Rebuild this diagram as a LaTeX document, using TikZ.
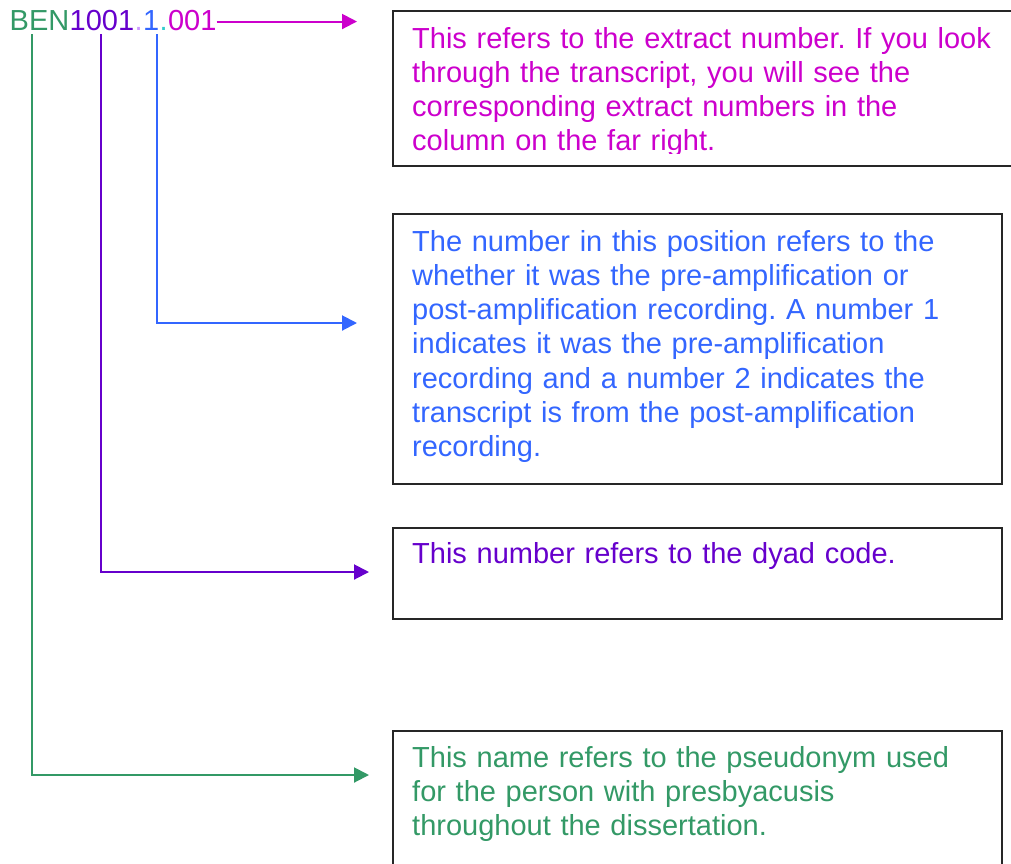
\documentclass[tikz,border=0pt]{standalone}
\usepackage{fontspec}
\setmainfont{Liberation Sans}
\definecolor{namegreen}{RGB}{51, 153, 102}
\definecolor{dyadpurple}{RGB}{102, 0, 204}
\definecolor{dotlilac}{RGB}{204, 153, 255}
\definecolor{recblue}{RGB}{51, 102, 255}
\definecolor{dotcyan}{RGB}{51, 204, 204}
\definecolor{extmagenta}{RGB}{204, 0, 204}
\usetikzlibrary{arrows.meta}
\frenchspacing

\begin{document}
\begin{tikzpicture}[x=1pt, y=-1pt,
  codepart/.style={inner xsep=0pt, inner ysep=4pt, anchor=base west, font=\fontsize{29}{34}\selectfont},
  infobox/.style={draw=black!85, line width=2pt, minimum width=609pt, anchor=north west, inner sep=0pt},
  infotext/.style={inner sep=0pt, anchor=base west, text width=600pt, align=left, font=\fontsize{29}{34.3}\selectfont},
  pointer/.style={line width=2pt, -{Triangle[length=15pt, width=15pt]}}]
  \clip (0,0) rectangle (1011,863);

  % Code label
  \node[codepart, text=namegreen] (name) at (9.5,30) {BEN};
  \node[codepart, text=dyadpurple] (dyad) at (name.base east) {1001};
  \node[codepart, text=dotlilac] (dota) at (dyad.base east) {.};
  \node[codepart, text=recblue] (rec) at (dota.base east) {1};
  \node[codepart, text=dotcyan] (dotb) at (rec.base east) {.};
  \node[codepart, text=extmagenta] (ext) at (dotb.base east) {001};

  % Boxes
  \node[infobox, minimum width=640pt, minimum height=155pt] (b1) at (392,10) {};
  \node[infobox, minimum height=270pt] (b2) at (392,213) {};
  \node[infobox, minimum height=91pt] (b3) at (392,527) {};
  \node[infobox, minimum height=160pt] (b4) at (392,730) {};

  % Texts
  \begin{scope}
    \clip (392,10) rectangle (1011,153);
    \node[infotext, text=extmagenta] (t1) at (412,48) {This refers to the extract number. If you look\\
      through the transcript, you will see the\\
      corresponding extract numbers in the\\
      column on the far right.};
  \end{scope}
  \node[infotext, text=recblue] (t2) at (412,251) {The number in this position refers to the\\
    whether it was the pre-amplification or\\
    post-amplification recording. A number 1\\
    indicates it was the pre-amplification\\
    recording and a number 2 indicates the\\
    transcript is from the post-amplification\\
    recording.};
  \node[infotext, text=dyadpurple] (t3) at (412,563) {This number refers to the dyad code.};
  \node[infotext, text=namegreen] (t4) at (412,767) {This name refers to the pseudonym used\\
    for the person with presbyacusis\\
    throughout the dissertation.};

  % Pointers
  \coordinate (toext) at (357,21);
  \coordinate (torec) at (357,323);
  \coordinate (todyad) at (369,572);
  \coordinate (toname) at (369,775);
  \draw[pointer, extmagenta] ([yshift=-1.5pt]ext.east) -- ([yshift=-1.5pt]ext.east -| toext);
  \draw[pointer, recblue] ([xshift=6pt]rec.south) |- (torec);
  \draw[pointer, dyadpurple] ([xshift=-1pt]dyad.south) |- (todyad);
  \draw[pointer, namegreen] ([xshift=-8pt]name.south) |- (toname);
\end{tikzpicture}
\end{document}
